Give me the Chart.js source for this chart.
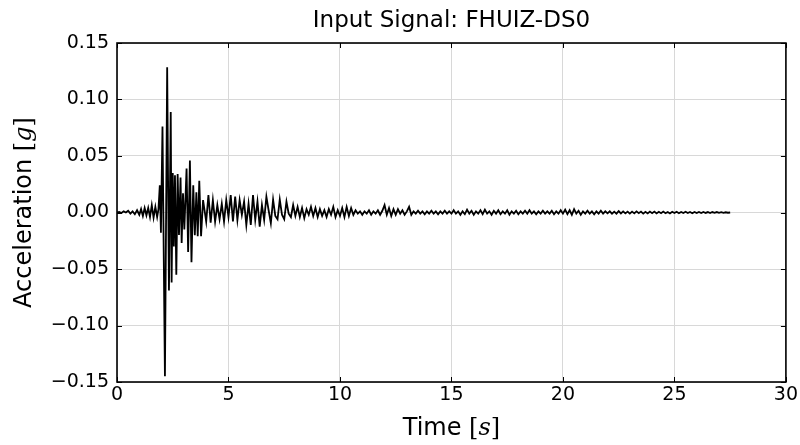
<!DOCTYPE html>
<html>
<head>
<meta charset="utf-8">
<script src="https://cdn.jsdelivr.net/npm/chart.js@4/dist/chart.umd.min.js"></script>
<style>
  html, body { margin: 0; padding: 0; background: #fff; }
</style>
</head>
<body>
<canvas id="chart" width="800" height="445"></canvas>
<script>
// pre-event noise and main burst, read point by point (time in s, accel in g)
const burstTime = [
  0.0, 0.1, 0.2, 0.3, 0.4, 0.5, 0.6, 0.7, 0.8, 0.9,
  1.0, 1.08, 1.16, 1.24, 1.32, 1.4, 1.48, 1.56, 1.64, 1.72,
  1.8, 1.86, 1.92, 1.97, 2.04, 2.15, 2.25, 2.33, 2.41, 2.45,
  2.5, 2.55, 2.6, 2.66, 2.72, 2.78, 2.85, 2.9, 2.96, 3.02,
  3.07, 3.12, 3.19, 3.27, 3.34, 3.42, 3.49, 3.56, 3.62, 3.69,
  3.77, 3.86
];
const burstAccel = [
  0.0, 0.0005, -0.0005, 0.001, 0.0, 0.0015, -0.001, 0.001, -0.0015, 0.002,
  -0.002, 0.003, -0.003, 0.004, -0.0025, 0.004, -0.004, 0.0065, -0.0045, 0.005,
  -0.004, 0.003, 0.024, -0.018, 0.076, -0.145, 0.1285, -0.069, 0.089, -0.062,
  0.035, -0.03, 0.033, -0.055, 0.034, -0.02, 0.031, -0.027, 0.017, -0.015,
  0.012, 0.039, -0.035, 0.046, -0.044, 0.024, -0.02, 0.018, -0.021, 0.028,
  -0.021, 0.011
];

// coda, sampled every 0.1 s from 4.0 s (one row per second)
const codaStart = 4.0;
const codaStep = 0.1;
const codaAccel = [
  -0.008, 0.0155, -0.009, 0.011, -0.008, 0.0066, -0.006, 0.0077, -0.008, 0.011,
  -0.004, 0.0155, -0.008, 0.014, -0.0066, 0.011, -0.002, 0.0096, -0.011, 0.0077,
  -0.011, 0.0155, -0.0066, 0.0096, -0.0125, 0.0066, -0.0066, 0.014, 0.002, -0.0095,
  0.0115, -0.003, -0.006, 0.0115, -0.002, -0.006, 0.0096, -0.001, -0.004, 0.0066,
  -0.003, 0.005, -0.004, 0.004, -0.005, 0.003, -0.002, 0.005, -0.003, 0.004,
  -0.004, 0.003, -0.003, 0.002, -0.004, 0.003, -0.002, 0.005, -0.004, 0.002,
  -0.003, 0.004, -0.004, 0.005, -0.003, 0.004, -0.002, 0.002, -0.001, 0.001,
  -0.002, 0.001, -0.001, 0.002, -0.002, 0.001, -0.001, 0.002, -0.002, 0.0015,
  0.0066, -0.002, 0.004, -0.003, 0.003, -0.002, 0.003, -0.001, 0.002, -0.002,
  0.001, 0.005, -0.002, 0.001, -0.001, 0.0015, -0.001, 0.001, -0.0015, 0.001,
  -0.001, 0.0015, -0.001, 0.001, -0.0015, 0.001, -0.001, 0.0015, -0.001, 0.001,
  -0.001, 0.002, -0.001, 0.001, -0.002, 0.001, -0.0015, 0.0025, -0.001, 0.0015,
  -0.002, 0.001, -0.001, 0.002, -0.0015, 0.0025, -0.001, 0.001, -0.002, 0.0015,
  -0.001, 0.002, -0.0015, 0.001, -0.001, 0.002, -0.002, 0.001, -0.001, 0.0015,
  -0.0015, 0.001, -0.001, 0.0015, -0.001, 0.002, -0.001, 0.001, -0.0015, 0.001,
  -0.001, 0.0015, -0.001, 0.001, -0.001, 0.0015, -0.0015, 0.001, -0.001, 0.002,
  -0.001, 0.0025, -0.0015, 0.002, -0.002, 0.003, -0.001, 0.0015, -0.002, 0.001,
  -0.001, 0.0015, -0.001, 0.001, -0.0015, 0.001, -0.001, 0.0015, -0.001, 0.001,
  -0.0008, 0.001, -0.001, 0.0008, -0.001, 0.0012, -0.0008, 0.001, -0.0008, 0.0008,
  -0.001, 0.0008, -0.0008, 0.001, -0.0006, 0.0008, -0.001, 0.0006, -0.0008, 0.0008,
  -0.0006, 0.0008, -0.0008, 0.0006, -0.0006, 0.0008, -0.0006, 0.0005, -0.0008, 0.0006,
  -0.0005, 0.0006, -0.0006, 0.0005, -0.0005, 0.0006, -0.0005, 0.0004, -0.0006, 0.0005,
  -0.0004, 0.0005, -0.0004, 0.0005, -0.0004, 0.0004, -0.0005, 0.0004, -0.0003, 0.0004,
  -0.0003, 0.0003, -0.0003, 0.0002, -0.0002, 0.0
];

const xTicks = [0, 5, 10, 15, 20, 25, 30];
const yTicks = [-0.15, -0.10, -0.05, 0.00, 0.05, 0.10, 0.15];

const titleText = "Input Signal: FHUIZ-DS0";
const xLabel = ["Time ", "s"];
const yLabel = ["Acceleration ", "g"];

const points = burstTime.map((t, i) => ({ x: t, y: burstAccel[i] }));
codaAccel.forEach((v, i) => {
  points.push({ x: +(codaStart + i * codaStep).toFixed(2), y: v });
});

function fmtTick(v) {
  if (Math.abs(v) < 1e-9) v = 0;
  const s = Math.abs(v).toFixed(2);
  return v < 0 ? "\u2212" + s : s;
}

// label like "Time [s]": sans word, serif upright brackets, italic letter
function drawMathLabel(ctx, parts, cx, cy) {
  const sans = "24px 'DejaVu Sans'";
  const serif = "24px 'DejaVu Serif'";
  const ital = "italic 24px 'DejaVu Serif'";
  ctx.font = sans; const w1 = ctx.measureText(parts[0]).width;
  ctx.font = serif; const wb = ctx.measureText("[").width;
  ctx.font = ital; const wl = ctx.measureText(parts[1]).width;
  ctx.font = serif; const we = ctx.measureText("]").width;
  let x = cx - (w1 + wb + wl + we) / 2;
  ctx.textAlign = "left";
  ctx.textBaseline = "middle";
  ctx.fillStyle = "#000";
  ctx.font = sans; ctx.fillText(parts[0], x, cy); x += w1;
  ctx.font = serif; ctx.fillText("[", x, cy); x += wb;
  ctx.font = ital; ctx.fillText(parts[1], x, cy); x += wl;
  ctx.font = serif; ctx.fillText("]", x, cy);
}

const framePlugin = {
  id: "frame",
  afterDraw(chart) {
    const ctx = chart.ctx;
    const a = chart.chartArea;
    const xs = chart.scales.x, ys = chart.scales.y;
    ctx.save();
    ctx.strokeStyle = "#000";
    ctx.lineWidth = 1;
    // inward ticks on all four sides
    ctx.beginPath();
    xTicks.forEach((t) => {
      const px = Math.round(xs.getPixelForValue(t)) + 0.5;
      ctx.moveTo(px, a.bottom); ctx.lineTo(px, a.bottom - 5);
      ctx.moveTo(px, a.top); ctx.lineTo(px, a.top + 5);
    });
    yTicks.forEach((t) => {
      const py = Math.round(ys.getPixelForValue(t)) + 0.5;
      ctx.moveTo(a.left, py); ctx.lineTo(a.left + 5, py);
      ctx.moveTo(a.right, py); ctx.lineTo(a.right - 5, py);
    });
    ctx.stroke();
    ctx.lineWidth = 1.6;
    ctx.strokeRect(a.left, a.top, a.right - a.left, a.bottom - a.top);

    ctx.fillStyle = "#000";
    ctx.font = "23px 'DejaVu Sans'";
    ctx.textAlign = "center";
    ctx.textBaseline = "middle";
    ctx.fillText(titleText, (a.left + a.right) / 2, 21);

    drawMathLabel(ctx, xLabel, (a.left + a.right) / 2, 429);
    ctx.translate(25, (a.top + a.bottom) / 2);
    ctx.rotate(-Math.PI / 2);
    drawMathLabel(ctx, yLabel, 0, 0);
    ctx.restore();
  }
};

new Chart(document.getElementById("chart"), {
  type: "line",
  data: {
    datasets: [{
      data: points,
      borderColor: "#000",
      borderWidth: 1.8,
      pointRadius: 0,
      tension: 0,
      fill: false
    }]
  },
  options: {
    responsive: false,
    animation: false,
    devicePixelRatio: 1,
    layout: { padding: { top: 43, right: 13, left: 0, bottom: 0 } },
    plugins: { legend: { display: false }, tooltip: { enabled: false } },
    scales: {
      x: {
        type: "linear",
        min: 0,
        max: 30,
        afterFit(scale) { scale.height = 63; },
        afterBuildTicks(scale) { scale.ticks = xTicks.map((v) => ({ value: v })); },
        ticks: {
          color: "#000",
          font: { family: "'DejaVu Sans'", size: 19 },
          padding: 2,
          maxRotation: 0,
          callback: (v) => String(v)
        },
        grid: { color: "#d8d8d8", drawTicks: false },
        border: { display: false }
      },
      y: {
        type: "linear",
        min: -0.15,
        max: 0.15,
        afterFit(scale) { scale.width = 117; },
        afterBuildTicks(scale) { scale.ticks = yTicks.map((v) => ({ value: v })); },
        ticks: {
          color: "#000",
          font: { family: "'DejaVu Sans'", size: 19 },
          padding: 8,
          callback: (v) => fmtTick(v)
        },
        grid: { color: "#d8d8d8", drawTicks: false },
        border: { display: false }
      }
    }
  },
  plugins: [framePlugin]
});
</script>
</body>
</html>
